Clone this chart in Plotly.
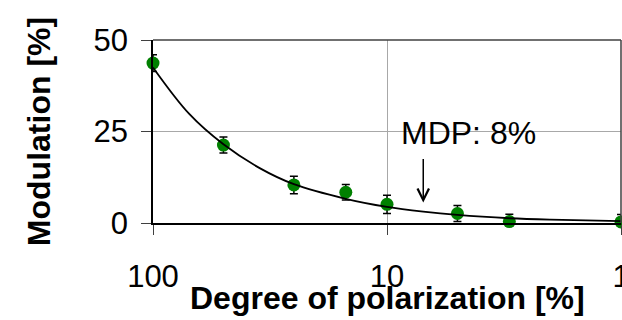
import math
import plotly.graph_objects as go

# Measured points
polarization = [100, 50, 25, 15, 10, 5, 3, 1]
modulation = [43.7, 21.3, 10.4, 8.4, 5.1, 2.6, 0.4, 0.3]
mod_err = [2.3, 2.2, 2.4, 2.1, 2.5, 2.2, 2.0, 2.0]

# Fitted curve
fit_pol = [100, 70, 50, 35, 25, 15, 10, 7, 5, 3, 2, 1]
fit_mod = [42.5, 29.8, 21.5, 15.0, 10.6, 6.6, 4.4, 3.1, 2.2, 1.3, 0.9, 0.5]

x_ticks = [100, 10, 1]
x_ticktext = ["100", "10", "1"]
y_ticks = [0, 25, 50]

x_title = "<b>Degree of polarization [%]</b>"
y_title = "<b>Modulation [%]</b>"

mdp_x = 7
mdp_tip = 5.6
mdp_label = "MDP: 8%"

FONT = "Liberation Sans, Arial, sans-serif"

fig = go.Figure()
fig.add_trace(go.Scatter(
    x=polarization, y=modulation, mode="markers",
    marker=dict(color="#008000", size=13),
    error_y=dict(type="data", array=mod_err, color="black", thickness=1.5, width=4),
    cliponaxis=False, showlegend=False,
))
fig.add_trace(go.Scatter(
    x=fit_pol, y=fit_mod, mode="lines",
    line=dict(color="black", width=1.8, shape="spline"),
    showlegend=False,
))

fig.update_layout(
    width=622, height=320,
    margin=dict(l=153, r=1, t=40, b=97),
    plot_bgcolor="white", paper_bgcolor="white",
    font=dict(family=FONT, color="black"),
    xaxis=dict(
        type="log", range=[2, 0], tickvals=x_ticks, ticktext=x_ticktext,
        showgrid=True, gridcolor="#a8a8a8", gridwidth=1,
        showline=True, linecolor="black", linewidth=2,
        ticks="outside", ticklen=10, tickcolor="#404040", tickwidth=1,
        tickfont=dict(size=31), ticklabelstandoff=15, ticklabeloverflow="allow",
        zeroline=False, automargin=False,
    ),
    yaxis=dict(
        range=[0, 50], tickvals=y_ticks,
        showgrid=True, gridcolor="#a8a8a8", gridwidth=1,
        showline=True, linecolor="black", linewidth=1.5,
        ticks="outside", ticklen=10, tickcolor="#404040", tickwidth=1,
        tickfont=dict(size=31), ticklabelstandoff=7,
        title=dict(text=y_title, font=dict(size=32), standoff=33),
        zeroline=False, automargin=False,
    ),
    shapes=[
        dict(type="line", xref="paper", yref="paper", x0=0, x1=1, y0=1, y1=1,
             line=dict(color="#404040", width=1.5)),
        dict(type="line", xref="paper", yref="paper", x0=1, x1=1, y0=0, y1=1,
             line=dict(color="#404040", width=1.5)),
    ],
)

# x-axis title, placed tight under the tick labels as in the reference
fig.add_annotation(
    x=0.5, y=0, xref="paper", yref="paper", yshift=-75,
    text=x_title, showarrow=False, font=dict(size=32, family=FONT),
    xanchor="center", yanchor="middle",
)

fig.add_annotation(
    x=math.log10(mdp_x), y=mdp_tip, xref="x", yref="y",
    ax=0, ay=-45, text="", showarrow=True,
    arrowhead=5, arrowsize=1.5, arrowwidth=1.5, arrowcolor="black",
)
fig.add_annotation(
    x=math.log10(4.5), y=24.5, xref="x", yref="y",
    text=mdp_label, showarrow=False, font=dict(size=32, family=FONT),
    xanchor="center", yanchor="middle",
)

# remove the default 8px page margin so the figure sits at the window's corner
fig.write_html(
    "out.html",
    config={"displayModeBar": False},
    post_script="document.body.style.margin='0';document.body.style.overflow='hidden';",
)
